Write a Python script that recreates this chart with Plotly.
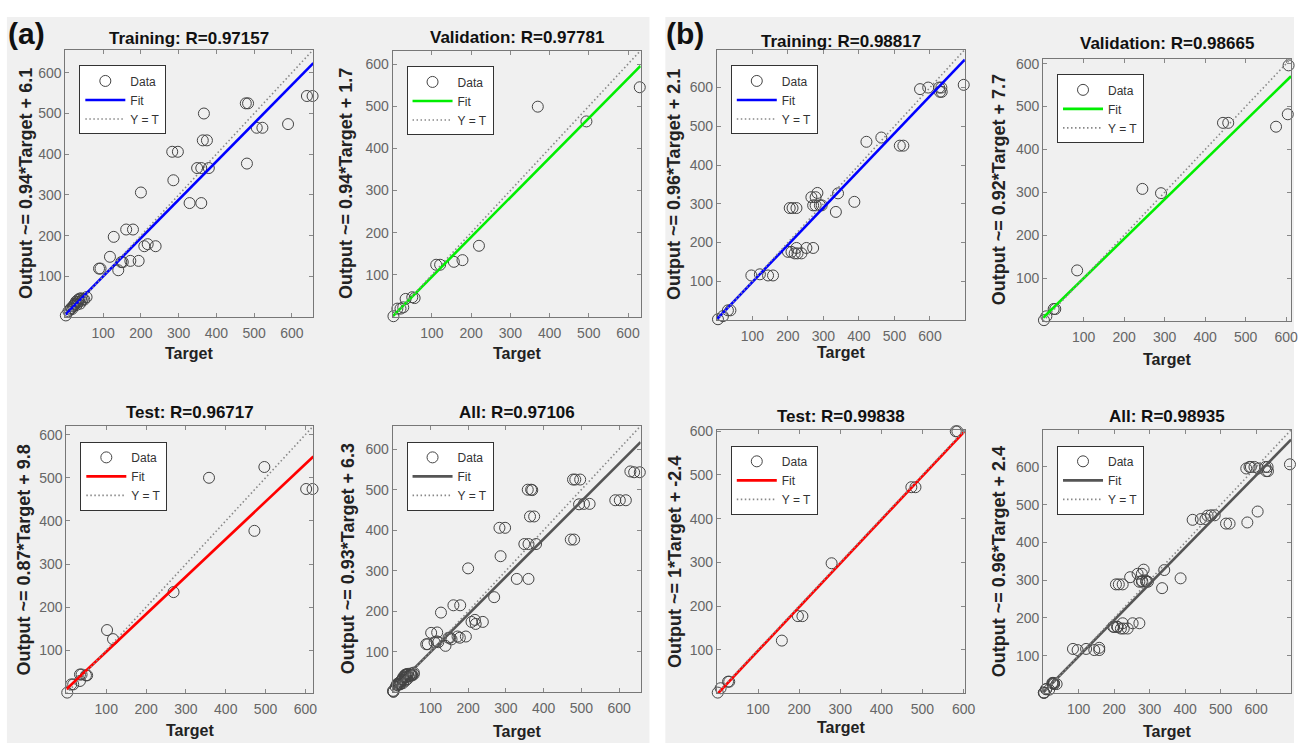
import plotly.graph_objects as go

W, H = 1305, 743

# ---------------- data (Target / Output) ----------------
a_train_t = [1, 8, 12, 15, 18, 20, 22, 24, 26, 28, 30, 32, 33, 35, 37, 39, 41, 43, 46, 50, 56,
             89, 93, 118, 128, 140, 148, 152, 161, 179, 172, 194, 200, 209, 218, 239,
             283, 298, 286, 329, 349, 360, 367, 364, 375, 360, 380, 478, 484, 481, 507, 522,
             590, 640, 655]
a_train_o = [4, 14, 18, 22, 20, 26, 28, 31, 33, 38, 30, 36, 42, 38, 45, 33, 46, 40, 44, 43, 49,
             119, 119, 148, 197, 115, 135, 135, 215, 215, 138, 138, 306, 174, 179, 174,
             406, 406, 336, 280, 366, 280, 500, 434, 434, 366, 366, 525, 525, 377, 465, 465,
             474, 543, 543]

a_val_t = [2, 12, 20, 27, 33, 50, 56, 111, 121, 156, 178, 220, 370, 494, 630]
a_val_o = [2, 20, 20, 23, 43, 47, 45, 124, 124, 131, 135, 169, 499, 464, 545]

a_test_t = [2, 12, 17, 34, 38, 34, 49, 52, 102, 117, 269, 358, 472, 497, 602, 618]
a_test_o = [2, 21, 21, 44, 44, 29, 42, 42, 147, 126, 235, 500, 377, 525, 474, 474]

b_train_t = [3, 17, 31, 38, 97, 121, 144, 158, 200, 210, 205, 213, 224, 219, 227, 238, 224,
             252, 271, 266, 271, 278, 283, 290, 295, 278, 335, 341, 387, 421, 463, 515, 525,
             572, 595, 626, 632, 628, 633, 695]
b_train_o = [2, 10, 25, 25, 115, 118, 115, 115, 176, 176, 289, 289, 289, 172, 172, 172, 186,
             186, 186, 317, 296, 296, 328, 296, 296, 317, 279, 327, 305, 460, 471, 450, 450,
             596, 600, 600, 600, 589, 589, 607]

b_val_t = [2, 8, 26, 30, 84, 245, 291, 444, 457, 575, 604, 606]
b_val_o = [2, 11, 28, 28, 118, 308, 298, 462, 462, 453, 482, 596]

b_test_t = [2, 9, 27, 30, 158, 197, 208, 279, 473, 483, 581, 585]
b_test_o = [2, 12, 27, 27, 121, 177, 177, 298, 472, 472, 600, 600]

# "All" = union of training, validation and test sets
a_all_t = a_train_t + a_val_t + a_test_t
a_all_o = a_train_o + a_val_o + a_test_o
b_all_t = b_train_t + b_val_t + b_test_t
b_all_o = b_train_o + b_val_o + b_test_o

# regression fits (slope, intercept) and R values
fit_slope = [0.94, 0.94, 0.87, 0.93, 0.96, 0.92, 1, 0.96]
fit_icpt = [6.1, 1.7, 9.8, 6.3, 2.1, 7.7, -2.4, 2.4]
r_values = ["0.97157", "0.97781", "0.96717", "0.97106", "0.98817", "0.98665", "0.99838", "0.98935"]
set_names = ["Training", "Validation", "Test", "All", "Training", "Validation", "Test", "All"]
axis_max = [657, 632, 620, 657, 698, 612, 603, 698]
tick_vals = [100, 200, 300, 400, 500, 600]

# ---------------- layout geometry (pixels) ----------------
boxes = [  # x0, x1, y0 (top), y1 (bottom)
    (66, 316, 43, 313),
    (396, 646, 44, 313),
    (67, 316, 423, 693),
    (396, 646, 423, 692),
    (723, 973, 43, 316),
    (1052, 1302, 52, 317),
    (723, 973, 427, 693),
    (1052, 1302, 427, 693),
]
title_y = [32, 31, 409, 409, 35, 37, 413, 413]
ylab_x = [27, 349, 24, 351, 680, 1007, 680, 1007]
xlab_y = [350, 350, 730, 731, 349, 356, 727, 731]
fit_colors = ["#0000ff", "#00ee00", "#ff0000", "#555555", "#0000ff", "#00ee00", "#ff0000", "#555555"]

series = [
    (a_train_t, a_train_o), (a_val_t, a_val_o), (a_test_t, a_test_o), (a_all_t, a_all_o),
    (b_train_t, b_train_o), (b_val_t, b_val_o), (b_test_t, b_test_o), (b_all_t, b_all_o),
]

FONT = "Liberation Sans, Arial, sans-serif"

fig = go.Figure()
layout = dict(
    width=W, height=H, margin=dict(l=0, r=0, t=0, b=0),
    paper_bgcolor="white", plot_bgcolor="white",
    font=dict(family=FONT, color="#333"),
    shapes=[], annotations=[],
)

def px_x(p):
    return p / W

def px_y(p):
    return 1 - p / H

# gray panels
for (x0, x1) in [(7, 655), (671, 1305)]:
    layout["shapes"].append(dict(type="rect", xref="paper", yref="paper", layer="below",
                                 x0=px_x(x0), x1=px_x(x1), y0=px_y(743), y1=px_y(10),
                                 fillcolor="#f0f0f0", line=dict(width=0)))

for i in range(8):
    n = i + 1
    sfx = "" if n == 1 else str(n)
    x0, x1, y0, y1 = boxes[i]
    lim = axis_max[i]
    t, o = series[i]
    leg = "legend" + sfx
    xa, ya = "x" + sfx, "y" + sfx

    fig.add_trace(go.Scatter(x=t, y=o, mode="markers", name="Data", xaxis=xa, yaxis=ya,
                             legend=leg, cliponaxis=False,
                             marker=dict(symbol="circle-open", size=11, color="#444",
                                         line=dict(width=1, color="#444"))))
    fig.add_trace(go.Scatter(x=[0, lim], y=[fit_icpt[i], fit_slope[i] * lim + fit_icpt[i]],
                             mode="lines", name="Fit", xaxis=xa, yaxis=ya, legend=leg,
                             line=dict(color=fit_colors[i], width=2.6)))
    fig.add_trace(go.Scatter(x=[0, lim], y=[0, lim], mode="lines", name="Y = T",
                             xaxis=xa, yaxis=ya, legend=leg,
                             line=dict(color="#888", width=1.6, dash="1.5px,2.5px")))

    common = dict(range=[0, lim], tickvals=tick_vals, ticks="inside", ticklen=4,
                  tickcolor="#888", showline=True, linecolor="#777", linewidth=1,
                  mirror="allticks", showgrid=False, zeroline=False,
                  tickfont=dict(family=FONT, size=14, color="#666"))
    layout["xaxis" + sfx] = dict(common, domain=[px_x(x0), px_x(x1)], anchor=ya,
                                 ticklabelstandoff=3)
    layout["yaxis" + sfx] = dict(common, domain=[px_y(y1), px_y(y0)], anchor=xa)

    layout[leg] = dict(x=px_x(x0 + 14), y=px_y(y0 + 16), xanchor="left", yanchor="top",
                       bgcolor="white", bordercolor="#333", borderwidth=1,
                       font=dict(family=FONT, size=12, color="#333"),
                       itemwidth=40, tracegroupgap=0, traceorder="normal")

    cx = (x0 + x1) / 2
    layout["annotations"].append(dict(
        text="<b>%s: R=%s</b>" % (set_names[i], r_values[i]), xref="paper", yref="paper",
        x=px_x(cx), y=px_y(title_y[i]), xanchor="center", yanchor="middle", showarrow=False,
        font=dict(family=FONT, size=17, color="#111")))
    slope_txt = ("%g" % fit_slope[i])
    layout["annotations"].append(dict(
        text="<b>Output ~= %s*Target + %g</b>" % (slope_txt, fit_icpt[i]),
        xref="paper", yref="paper", x=px_x(ylab_x[i]), y=px_y((y0 + y1) / 2),
        xanchor="center", yanchor="middle", textangle=-90, showarrow=False,
        font=dict(family=FONT, size=18, color="#222")))
    layout["annotations"].append(dict(
        text="<b>Target</b>", xref="paper", yref="paper", x=px_x(cx), y=px_y(xlab_y[i]),
        xanchor="center", yanchor="middle", showarrow=False,
        font=dict(family=FONT, size=16, color="#222")))

for lab, px, py in [("(a)", 27, 27), ("(b)", 691, 27)]:
    layout["annotations"].append(dict(
        text="<b>%s</b>" % lab, xref="paper", yref="paper", x=px_x(px), y=px_y(py),
        xanchor="center", yanchor="middle", showarrow=False,
        font=dict(family=FONT, size=30, color="#111")))

fig.update_layout(**layout)
fig.write_html("out.html")
